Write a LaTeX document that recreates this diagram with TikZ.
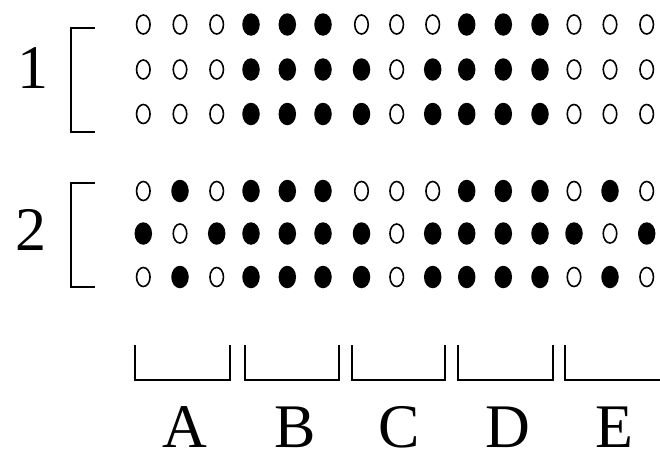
\documentclass[tikz,border=0pt]{standalone}
\usepackage{fontspec}
\setmainfont{Liberation Serif}
\usetikzlibrary{shapes.geometric}
\begin{document}
\begin{tikzpicture}[x=1pt,y=-1pt,
  opendot/.style={ellipse, draw, line width=1.6pt, minimum width=13.5pt, minimum height=19pt, inner sep=0pt},
  filldot/.style={ellipse, fill, minimum width=17.5pt, minimum height=22.5pt, inner sep=0pt},
  brk/.style={line width=2.4pt},
  bigtext/.style={font=\fontsize{62}{62}\selectfont, anchor=base, inner sep=0pt, text depth=0pt}]
\useasboundingbox (0,0) rectangle (660,455);
\fill[white] (0,0) rectangle (660,455);
% dots
\foreach \r/\y/\pat in {
  1/24.5/{0,0,0,1,1,1,0,0,0,1,1,1,0,0,0},
  2/69.5/{0,0,0,1,1,1,1,0,1,1,1,1,0,0,0},
  3/114/{0,0,0,1,1,1,1,0,1,1,1,1,0,0,0},
  4/191/{0,1,0,1,1,1,0,0,0,1,1,1,0,1,0},
  5/233.5/{1,0,1,1,1,1,1,0,1,1,1,1,1,0,1},
  6/277/{0,1,0,1,1,1,1,0,1,1,1,1,0,1,0}} {
  \foreach \v [count=\i] in \pat {
    \pgfmathsetmacro{\xx}{{143.3,180,216.7,251,287.3,323,361.5,396.7,432.7,466.7,503.3,540,574,610,646.7}[\i-1]}
    \ifnum\v=1
      \node[filldot] (d\r-\i) at (\xx,\y) {};
    \else
      \node[opendot] (d\r-\i) at (\xx,\y) {};
    \fi
  }
}
% left brackets
\draw[brk] (95,28) -- (71,28) -- (71,132) -- (95,132);
\draw[brk] (95,183) -- (71,183) -- (71,287) -- (95,287);
\node[bigtext] (n1) at (33,88) {1};
\node[bigtext] (n2) at (31,250) {2};
% bottom brackets
\draw[brk] (135,345) -- (135,380) -- (230,380) -- (230,345);
\draw[brk] (245,345) -- (245,380) -- (339,380) -- (339,345);
\draw[brk] (352,345) -- (352,380) -- (445,380) -- (445,345);
\draw[brk] (458,345) -- (458,380) -- (553,380) -- (553,345);
\draw[brk] (565,345) -- (565,380) -- (661,380);
\node[bigtext] (la) at (185,447) {A};
\node[bigtext] (lb) at (295,447) {B};
\node[bigtext] (lc) at (399,447) {C};
\node[bigtext] (ld) at (508,447) {D};
\node[bigtext] (le) at (614,447) {E};
\end{tikzpicture}
\end{document}
